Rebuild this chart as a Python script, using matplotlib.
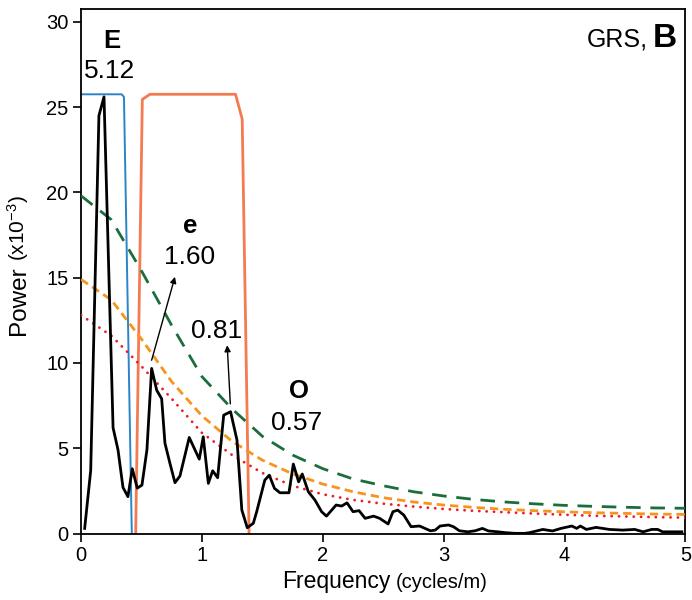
import matplotlib
matplotlib.use('Agg')
import matplotlib.pyplot as plt

plt.rcParams['font.family'] = ['Liberation Sans', 'DejaVu Sans']
plt.rcParams['mathtext.default'] = 'regular'
plt.rcParams['lines.scale_dashes'] = False

# power spectrum (x10^-3)
spec_f = [0.03, 0.08, 0.148, 0.19, 0.265, 0.306, 0.347, 0.388, 0.424, 0.465,
          0.504, 0.545, 0.584, 0.626, 0.667, 0.694, 0.736, 0.777, 0.818, 0.895,
          0.978, 1.011, 1.053, 1.089, 1.13, 1.18, 1.237, 1.29, 1.33, 1.375,
          1.425, 1.453, 1.52, 1.557, 1.60, 1.645, 1.72, 1.756, 1.80, 1.83,
          1.88, 1.935, 1.99, 2.03, 2.11, 2.156, 2.20, 2.25, 2.30, 2.35,
          2.42, 2.47, 2.54, 2.58, 2.62, 2.67, 2.73, 2.80, 2.845, 2.89,
          2.93, 2.97, 3.04, 3.08, 3.13, 3.20, 3.26, 3.32, 3.37, 3.45,
          3.51, 3.59, 3.67, 3.71, 3.82, 3.90, 3.97, 4.06, 4.10, 4.13,
          4.18, 4.26, 4.37, 4.48, 4.58, 4.65, 4.72, 4.77, 4.81, 4.88, 4.97]
spec_p = [0.3, 3.7, 24.5, 25.6, 6.2, 4.9, 2.7, 2.16, 3.8, 2.66,
          2.84, 4.9, 9.68, 8.4, 7.9, 5.3, 4.1, 2.98, 3.37, 5.63,
          4.36, 5.67, 2.94, 3.68, 3.27, 6.94, 7.14, 5.48, 1.38, 0.34,
          0.6, 1.28, 3.13, 3.42, 2.65, 2.39, 2.39, 4.07, 3.03, 3.49,
          2.45, 1.96, 1.28, 1.02, 1.67, 1.61, 1.8, 1.28, 1.34, 0.89,
          1.02, 0.89, 0.56, 1.28, 1.37, 1.08, 0.4, 0.44, 0.3, 0.16,
          0.2, 0.44, 0.5, 0.4, 0.16, 0.1, 0.16, 0.3, 0.15, 0.1,
          0.05, 0.01, 0.01, 0.05, 0.24, 0.15, 0.3, 0.44, 0.3, 0.44,
          0.24, 0.36, 0.24, 0.2, 0.24, 0.1, 0.24, 0.24, 0.1, 0.1, 0.1]

# red-noise confidence curves
conf_f = [0, 0.25, 0.5, 0.75, 1.0, 1.25, 1.5, 1.75, 2.0, 2.25, 2.5,
          2.75, 3.0, 3.25, 3.5, 3.75, 4.0, 4.25, 4.5, 4.75, 5.0]
green_p = [19.8, 18.4, 15.4, 12.2, 9.2, 7.3, 5.7, 4.6, 3.8, 3.2, 2.8,
           2.45, 2.2, 2.0, 1.85, 1.74, 1.65, 1.59, 1.54, 1.5, 1.48]
orange_p = [14.9, 13.7, 11.4, 8.9, 6.9, 5.4, 4.3, 3.5, 2.9, 2.45, 2.1,
            1.85, 1.67, 1.53, 1.42, 1.34, 1.27, 1.22, 1.18, 1.14, 1.12]
red_p = [12.8, 11.6, 9.8, 7.9, 5.9, 4.6, 3.55, 2.8, 2.3, 1.97, 1.75,
         1.58, 1.44, 1.33, 1.25, 1.17, 1.1, 1.04, 1.0, 0.96, 0.93]

# band-pass filters
blue_f = [0, 0.336, 0.355, 0.42]
blue_p = [25.75, 25.75, 25.6, 0]
coral_f = [0.452, 0.507, 0.57, 1.278, 1.333, 1.39]
coral_p = [0, 25.45, 25.75, 25.75, 24.3, 0]

fig = plt.figure(figsize=(6.92, 6.0), dpi=100)
ax = fig.add_axes([0.1171, 0.1108, 0.8735, 0.8742])

ax.plot(blue_f, blue_p, color='#2a85c8', lw=1.4, zorder=2)
ax.plot(coral_f, coral_p, color='#f37b50', lw=2.0, zorder=2)
ax.plot(conf_f, green_p, color='#1b6e3c', lw=2.0, dashes=(10.5, 7), zorder=3)
ax.plot(conf_f, orange_p, color='#f7941d', lw=2.0, dashes=(6, 3.6), zorder=3)
ax.plot(conf_f, red_p, color='#ed1c24', lw=2.0, dashes=(0.1, 5.2),
        dash_capstyle='round', zorder=3)
ax.plot(spec_f, spec_p, color='black', lw=2.0, zorder=4)

ax.set_xlim(0, 5)
ax.set_ylim(0, 30.75)
ax.set_yticks([0, 5, 10, 15, 20, 25, 30])
ax.set_xticks([0, 1, 2, 3, 4, 5])
ax.tick_params(direction='out', length=6, width=1.2, labelsize=14.5, pad=3)
for s in ax.spines.values():
    s.set_linewidth(1.3)

# peak labels
ax.text(0.256, 28.9, 'E', ha='center', va='center', fontsize=18.5, fontweight='bold')
ax.text(0.24, 27.1, '5.12', ha='center', va='center', fontsize=19)
ax.text(0.90, 18.0, 'e', ha='center', va='center', fontsize=18.5, fontweight='bold')
ax.text(0.90, 16.2, '1.60', ha='center', va='center', fontsize=19)
ax.text(1.121, 11.85, '0.81', ha='center', va='center', fontsize=19)
ax.text(1.80, 8.35, 'O', ha='center', va='center', fontsize=18.5, fontweight='bold')
ax.text(1.78, 6.5, '0.57', ha='center', va='center', fontsize=19)

arrow = dict(arrowstyle='-|>', color='black', lw=1.0, mutation_scale=9,
             shrinkA=0, shrinkB=0)
ax.annotate('', xy=(0.777, 15.05), xytext=(0.584, 10.16), arrowprops=arrow)
ax.annotate('', xy=(1.209, 11.04), xytext=(1.235, 7.6), arrowprops=arrow)

# panel tag
tB = ax.text(0.986, 0.9276, 'B', transform=ax.transAxes, ha='right',
             va='baseline', fontsize=24, fontweight='bold')
fig.canvas.draw()
r = fig.canvas.get_renderer()
bb = tB.get_window_extent(r)
x0, _ = ax.transAxes.inverted().transform((bb.x0 - 5, 0))
ax.text(x0, 0.9276, 'GRS,', transform=ax.transAxes, ha='right',
        va='baseline', fontsize=18)

# axis labels with a smaller unit part
tx = fig.text(0.4075, 0.02, 'Frequency', ha='left', va='baseline', fontsize=16.5)
fig.canvas.draw()
bb = tx.get_window_extent(r)
fig.text((bb.x1 + 5) / fig.bbox.width, 0.02, '(cycles/m)', ha='left',
         va='baseline', fontsize=14.5)

ty = fig.text(0.0355, 0.4417, 'Power', rotation=90, rotation_mode='anchor',
              ha='left', va='baseline', fontsize=17.5)
fig.canvas.draw()
bb = ty.get_window_extent(r)
fig.text(0.0355, (bb.y1 + 5) / fig.bbox.height, '(x10$^{-3}$)', rotation=90,
         rotation_mode='anchor', ha='left', va='baseline', fontsize=15)

fig.savefig('out.png', dpi=100)
